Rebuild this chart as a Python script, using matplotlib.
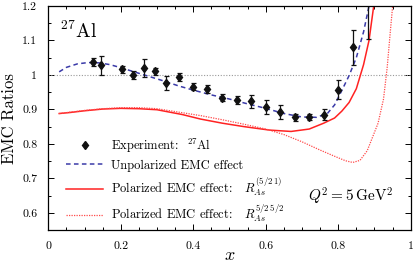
import numpy as np
import matplotlib
matplotlib.use("Agg")
import matplotlib.pyplot as plt
from matplotlib.lines import Line2D
from matplotlib.ticker import MultipleLocator

plt.rcParams['font.family'] = 'serif'
plt.rcParams['font.serif'] = ['cmr10']
plt.rcParams['mathtext.fontset'] = 'cm'
plt.rcParams['axes.formatter.use_mathtext'] = True

# experimental points (27Al)
x_exp = [0.124, 0.145, 0.204, 0.235, 0.264, 0.294, 0.325, 0.36, 0.40, 0.439, 0.479,
         0.52, 0.559, 0.60, 0.639, 0.68, 0.72, 0.76, 0.80, 0.84, 0.883]
y_exp = [1.038, 1.028, 1.016, 0.999, 1.02, 1.01, 0.977, 0.994, 0.966, 0.959, 0.934,
         0.928, 0.923, 0.907, 0.893, 0.877, 0.878, 0.885, 0.957, 1.08, 1.22]
e_exp = [0.012, 0.028, 0.01, 0.012, 0.026, 0.01, 0.02, 0.012, 0.01, 0.012, 0.01,
         0.012, 0.02, 0.02, 0.02, 0.01, 0.01, 0.015, 0.027, 0.05, 0.115]

# unpolarized EMC effect
x_unpol = [0.03, 0.05, 0.08, 0.11, 0.14, 0.17, 0.2, 0.24, 0.28, 0.32, 0.36, 0.4, 0.45,
           0.5, 0.55, 0.6, 0.65, 0.7, 0.74, 0.77, 0.79, 0.81, 0.83, 0.85, 0.87, 0.885, 0.895]
y_unpol = [1.009, 1.022, 1.032, 1.036, 1.035, 1.03, 1.021, 1.008, 0.995, 0.982, 0.968,
           0.956, 0.942, 0.93, 0.916, 0.903, 0.888, 0.878, 0.877, 0.888, 0.913, 0.955,
           0.998, 1.05, 1.125, 1.2, 1.26]

# polarized EMC effect R^(5/2 1)
x_pol1 = [0.03, 0.06, 0.1, 0.15, 0.2, 0.25, 0.3, 0.37, 0.42, 0.48, 0.54, 0.61, 0.67,
          0.72, 0.76, 0.79, 0.81, 0.83, 0.85, 0.87, 0.885, 0.898, 0.905]
y_pol1 = [0.888, 0.891, 0.896, 0.901, 0.903, 0.902, 0.899, 0.885, 0.872, 0.86, 0.85,
          0.84, 0.836, 0.843, 0.86, 0.875, 0.895, 0.92, 0.96, 1.03, 1.10, 1.2, 1.26]

# polarized EMC effect R^(5/2 5/2)
x_pol2 = [0.03, 0.06, 0.1, 0.15, 0.2, 0.25, 0.3, 0.36, 0.42, 0.48, 0.54, 0.6, 0.65,
          0.7, 0.75, 0.79, 0.82, 0.84, 0.86, 0.88, 0.895, 0.91, 0.925, 0.935, 0.945, 0.952]
y_pol2 = [0.888, 0.892, 0.897, 0.902, 0.905, 0.905, 0.902, 0.892, 0.882, 0.87, 0.857,
          0.843, 0.827, 0.806, 0.782, 0.764, 0.751, 0.746, 0.752, 0.78, 0.82, 0.86,
          0.93, 1.02, 1.14, 1.22]

blue = '#3a3aa8'
red = '#ff2222'

fig = plt.figure(figsize=(4.15, 2.66), dpi=100)
ax = fig.add_axes([0.1164, 0.1353, 0.8732, 0.8421])

ax.axhline(1.0, color='#999999', ls=(0, (1, 1.5)), lw=0.8)
ax.plot(x_unpol, y_unpol, color=blue, ls=(0, (3, 2.2)), lw=1.1)
ax.plot(x_pol1, y_pol1, color=red, ls='-', lw=1.1)
ax.plot(x_pol2, y_pol2, color='#ff4a4a', ls=(0, (1, 1)), lw=0.9)
ax.errorbar(x_exp, y_exp, yerr=e_exp, fmt='d', color='#111111', ms=4.5, lw=0.9,
            capsize=1.8, capthick=0.9)

ax.set_xlim(0, 1)
ax.set_ylim(0.55, 1.2)
ax.xaxis.set_minor_locator(MultipleLocator(0.05))
ax.yaxis.set_minor_locator(MultipleLocator(0.05))
ax.set_yticks([0.6, 0.7, 0.8, 0.9, 1.0, 1.1, 1.2])
ax.set_yticklabels(['0.6', '0.7', '0.8', '0.9', '1', '1.1', '1.2'])
ax.set_xticks([0, 0.2, 0.4, 0.6, 0.8, 1.0])
ax.set_xticklabels(['0', '0.2', '0.4', '0.6', '0.8', '1'])
ax.tick_params(which='both', direction='in', top=True, right=True, labelsize=8.5,
               width=0.7, pad=8)
ax.tick_params(which='major', length=4.5)
ax.tick_params(which='minor', length=2.5)
for s in ax.spines.values():
    s.set_linewidth(0.9)

ax.set_xlabel('$x$', fontsize=13, labelpad=-2)
ax.set_ylabel('EMC Ratios', fontsize=12, labelpad=4)

ax.text(0.032, 1.107, r'$^{27}$Al', fontsize=14, va='baseline')
ax.text(0.716, 0.632, r'$Q^2 = 5\,\mathrm{GeV}^2$', fontsize=11, va='baseline')

handles = [Line2D([], [], ls='none', marker='d', color='#111111', ms=4.5),
           Line2D([], [], color=blue, ls=(0, (3, 2.2)), lw=1.1),
           Line2D([], [], color=red, lw=1.1),
           Line2D([], [], color='#ff4a4a', ls=(0, (1, 1)), lw=0.9)]
labels = [r'Experiment:  $^{27}$Al',
          'Unpolarized EMC effect',
          r'Polarized EMC effect:   $R_{As}^{(5/2\,1)}$',
          r'Polarized EMC effect:   $R_{As}^{5/2\,5/2}$']
ax.legend(handles, labels, loc='upper left', bbox_to_anchor=(0.035, 0.44),
          frameon=False, fontsize=9, handlelength=3.0, handletextpad=0.6,
          labelspacing=0.35, borderaxespad=0)

fig.savefig('out.png', dpi=100)
